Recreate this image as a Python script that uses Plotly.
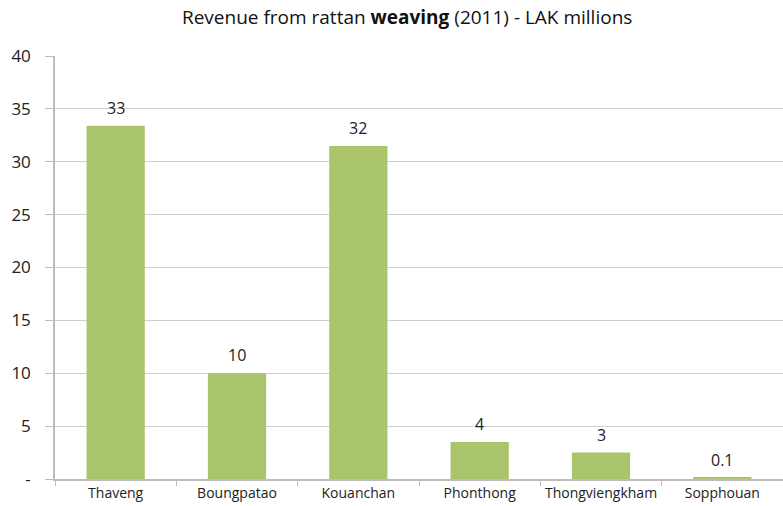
import math
import plotly.graph_objects as go

# Revenue from rattan weaving by village, 2011 (LAK millions)
villages = ["Thaveng", "Boungpatao", "Kouanchan", "Phonthong", "Thongviengkham", "Sopphouan"]
revenue = [33.4, 10.0, 31.5, 3.5, 2.5, 0.1]

# y-axis ticks; zero is shown as a dash
y_ticks = [0, 5, 10, 15, 20, 25, 30, 35, 40]
y_tick_text = ["-" if t == 0 else str(t) for t in y_ticks]


def fmt(v):
    # whole numbers rounded half-up, small values keep one decimal
    if v < 1:
        return f"{v:.1f}"
    return str(int(math.floor(v + 0.5)))


FONT = "'Open Sans', Lato, Arial, sans-serif"
BAR = "#a9c46b"

fig = go.Figure()
fig.add_trace(go.Bar(
    x=villages,
    y=revenue,
    marker=dict(color=BAR, line=dict(width=0)),
    hoverinfo="x+y",
))

for name, v in zip(villages, revenue):
    fig.add_annotation(
        x=name, y=v, text=fmt(v), showarrow=False,
        yanchor="bottom", yshift=5,
        font=dict(family=FONT, size=16, color="#222222"),
    )

fig.update_layout(
    width=783, height=506,
    margin=dict(l=55, r=0, t=56, b=27),
    paper_bgcolor="white", plot_bgcolor="white",
    bargap=0.52,
    showlegend=False,
    title=dict(
        text="Revenue from rattan <b>weaving</b> (2011) - LAK millions",
        x=0.52, xanchor="center", y=0.965, yanchor="middle",
        font=dict(family=FONT, size=19, color="#111111"),
    ),
)

fig.update_xaxes(
    showline=True, linecolor="#bdbdbd", linewidth=1.5,
    ticks="outside", ticklen=5, tickcolor="#bdbdbd",
    tickson="boundaries",
    tickfont=dict(family=FONT, size=14, color="#222222"),
    showgrid=False,
)
fig.update_yaxes(
    range=[0, 40],
    tickvals=y_ticks, ticktext=y_tick_text,
    showline=True, linecolor="#bdbdbd", linewidth=1.5,
    ticks="outside", ticklen=8, tickcolor="#bdbdbd",
    ticklabelstandoff=11,
    showgrid=True, gridcolor="#cfcfcf", gridwidth=1,
    zeroline=False,
    tickfont=dict(family=FONT, size=17, color="#222222"),
)

fig.write_html("out.html")
